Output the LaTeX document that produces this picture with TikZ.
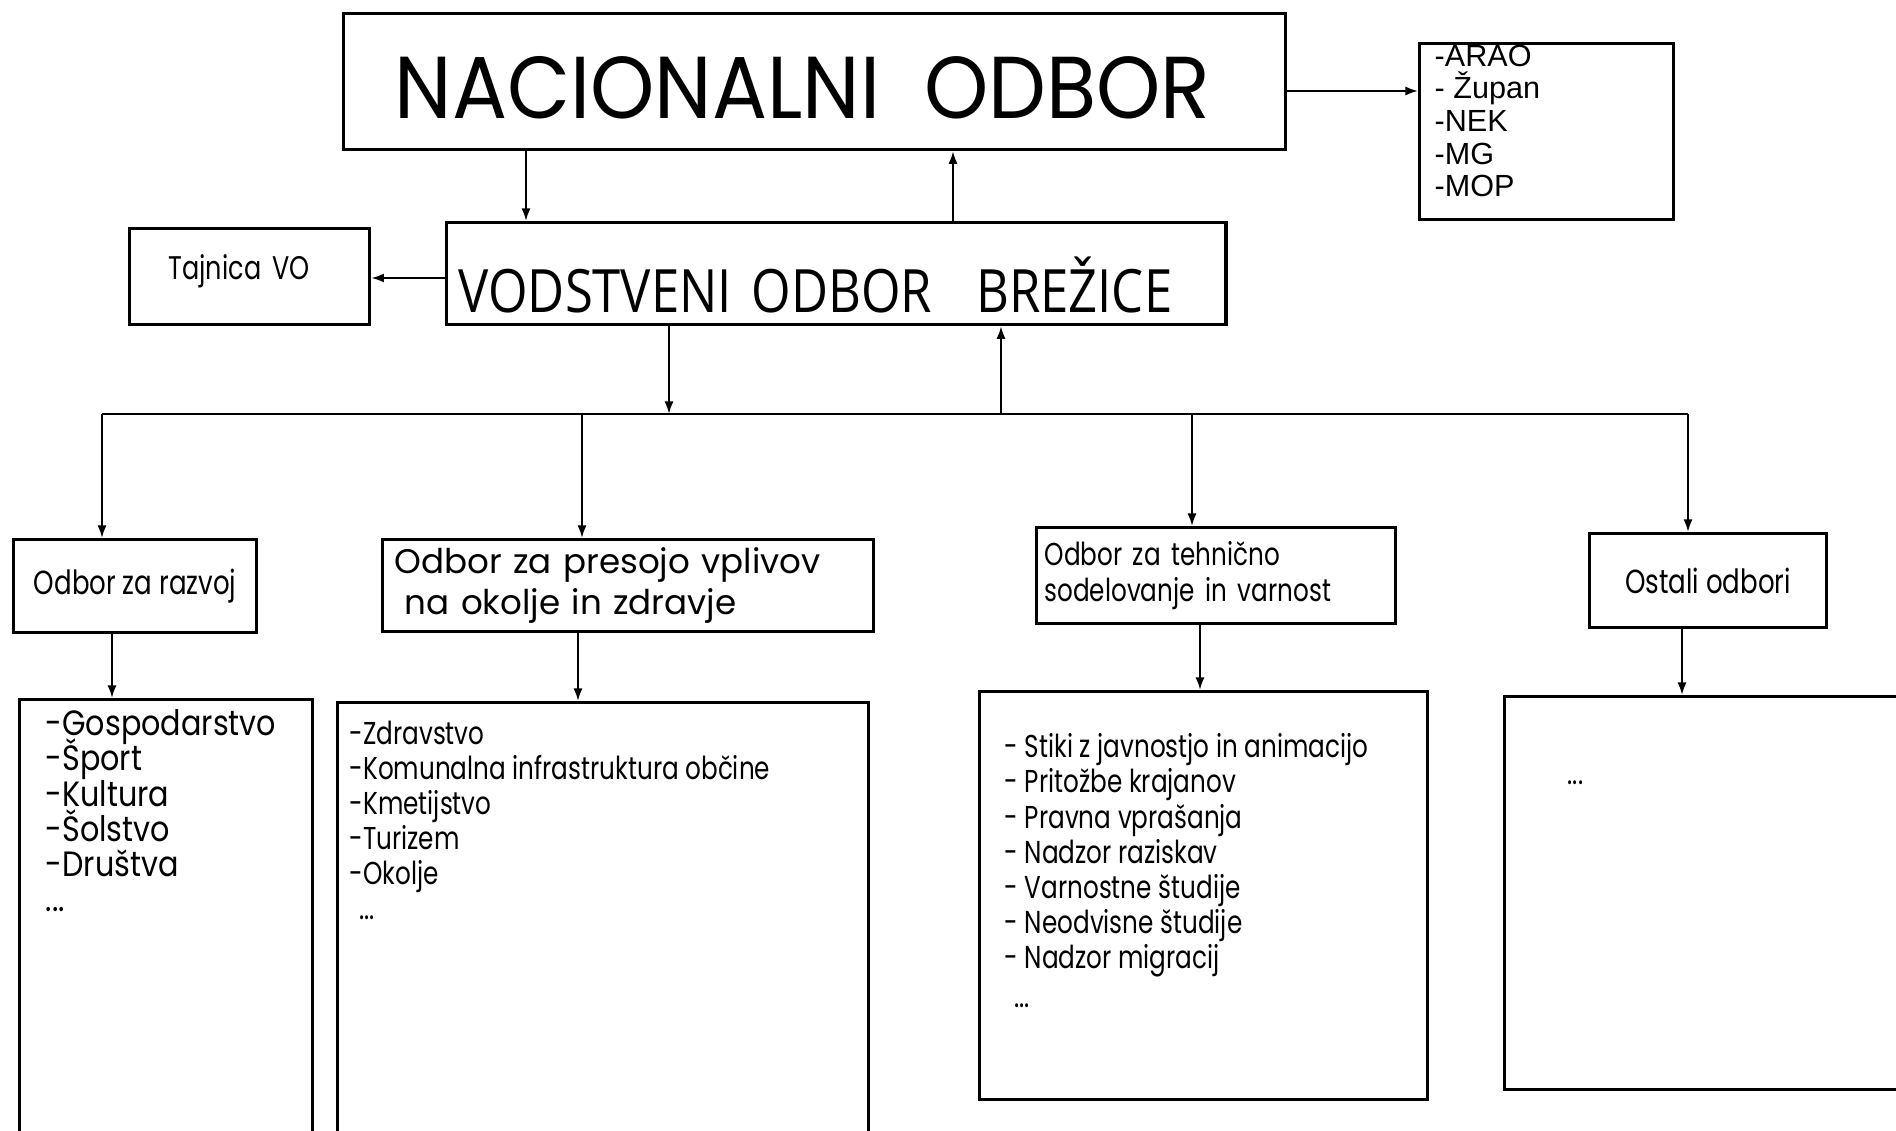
\documentclass[tikz,border=0pt]{standalone}
\usepackage{fontspec}
\usepackage{tikz}
\usetikzlibrary{arrows.meta,positioning}
\setmainfont{Poppins}
\newfontfamily\gothic[FakeStretch=0.78]{Poppins}
\newfontfamily\gothicwide[FakeStretch=0.86]{Poppins}
\newfontfamily\bigfont[FakeStretch=0.93]{Poppins}
\newfontfamily\headfont[FakeStretch=0.85]{Open Sans}
\newfontfamily\arialfont{Liberation Sans}
\newcommand{\tightlines}{\setlength{\lineskiplimit}{-10pt}}

\tikzset{
  box/.style={draw, line width=0.9pt, inner sep=0pt, anchor=north west},
  arr/.style={-{Latex[length=3.6pt,width=2.6pt]}, line width=0.6pt},
  listtext/.style={anchor=north west, inner sep=0pt, align=left,
                   font=\gothic\fontsize{9}{10}\selectfont\tightlines},
}

\begin{document}
\begin{tikzpicture}[x=0.01cm, y=-0.01cm]
  \useasboundingbox (0,0) rectangle (1896,1131);
  \clip (0,0) rectangle (1896,1131);

  % National board and its members
  \node[box, minimum width=9.41cm, minimum height=1.36cm, text width=8.39cm, inner xsep=0.51cm,
        align=left, text height=0.74cm, text depth=0cm,
        font=\bigfont\fontsize{25}{30}\selectfont] (nac) at (342,12) {NACIONALNI\hspace{0.5em}ODBOR};
  \node[box, minimum width=2.54cm, minimum height=1.76cm] (arao) at (1418,42) {};
  \node[anchor=north west, inner sep=0pt, align=left, font=\arialfont\fontsize{8.7}{9.3}\selectfont]
        (clani) at (1434,44) {-ARAO\\- Župan\\-NEK\\-MG\\-MOP};

  % Steering board and secretary
  \node[box, minimum width=7.79cm, minimum height=1.02cm, text width=7.55cm, inner xsep=0.12cm,
        align=left, text height=0.78cm, text depth=0cm,
        font=\headfont\fontsize{17}{20}\selectfont] (vod) at (445,221) {VODSTVENI ODBOR\hspace{0.4em} BREŽICE};
  \node[box, minimum width=2.40cm, minimum height=0.96cm, text width=1.62cm, inner xsep=0.39cm,
        align=left, text height=0.25cm, text depth=0.2cm,
        font=\gothic\fontsize{9.3}{11}\selectfont] (taj) at (128,227) {Tajnica VO};

  % Committees
  \node[box, minimum width=2.43cm, minimum height=0.93cm, font=\gothic\fontsize{9.5}{11}\selectfont]
        (razvoj) at (12,538) {Odbor za razvoj};
  \node[box, minimum width=4.91cm, minimum height=0.92cm, text width=4.67cm, inner xsep=0.12cm,
        align=left, font=\fontsize{9.7}{11.5}\selectfont]
        (presoja) at (381,538) {Odbor za presojo vplivov\\\hspace*{0.3em}na okolje in zdravje};
  \node[box, minimum width=3.59cm, minimum height=0.96cm, text width=3.43cm, inner xsep=0.08cm,
        align=left, font=\gothic\fontsize{9}{10}\selectfont]
        (tehnicno) at (1035,526) {Odbor za tehnično\\sodelovanje in varnost};
  \node[box, minimum width=2.37cm, minimum height=0.94cm, font=\gothic\fontsize{9.5}{11}\selectfont]
        (ostali) at (1588,532) {Ostali odbori};

  % Lists of fields
  \node[box, minimum width=2.93cm, minimum height=5.0cm] (seznamA) at (18,698) {};
  \node[box, minimum width=5.31cm, minimum height=5.0cm] (seznamB) at (336,701) {};
  \node[box, minimum width=4.48cm, minimum height=4.08cm] (seznamC) at (978,690) {};
  \node[box, minimum width=4.50cm, minimum height=3.93cm] (seznamD) at (1503,695) {};

  \node[listtext, font=\gothicwide\fontsize{10}{10}\selectfont\tightlines]
        (poljaA) at (45,709) {-Gospodarstvo\\-Šport\\-Kultura\\-Šolstvo\\-Društva\\...};
  \node[listtext] (poljaB) at (349,720) {-Zdravstvo\\-Komunalna infrastruktura občine\\-Kmetijstvo\\-Turizem\\-Okolje\\\hspace*{0.3em}...};
  \node[listtext] (poljaC) at (1004,733) {- Stiki z javnostjo in animacijo\\- Pritožbe krajanov\\- Pravna vprašanja\\- Nadzor raziskav\\- Varnostne študije\\- Neodvisne študije\\- Nadzor migracij\\[1pt]\hspace*{0.3em}...};
  \node[listtext, anchor=base west] (poljaD) at (1567,785) {...};

  % Connections between boards
  \coordinate (busL) at (102,414);
  \coordinate (busR) at (1688,414);
  \draw[arr] (nac.east |- 0,91) -- (arao.west |- 0,91);
  \draw[arr] (nac.south -| 526,0) -- (vod.north -| 526,0);
  \draw[arr] (vod.north -| 953,0) -- (nac.south -| 953,0);
  \draw[arr] (vod.west |- 0,278) -- (taj.east |- 0,278);
  \draw[arr] (vod.south -| 669,0) -- (busL -| 669,0);
  \draw[arr] (busL -| 1001,0) -- (vod.south -| 1001,0);
  \draw[line width=0.8pt] (busL) -- (busR);

  % Down to committees and their lists
  \foreach \odbor/\x in {razvoj/102, presoja/582, tehnicno/1192, ostali/1688}
    \draw[arr] (busL -| \x,0) -- (\odbor.north -| \x,0);
  \foreach \odbor/\seznam/\x in {razvoj/seznamA/112, presoja/seznamB/578, tehnicno/seznamC/1200, ostali/seznamD/1682}
    \draw[arr] (\odbor.south -| \x,0) -- (\seznam.north -| \x,0);
\end{tikzpicture}
\end{document}
